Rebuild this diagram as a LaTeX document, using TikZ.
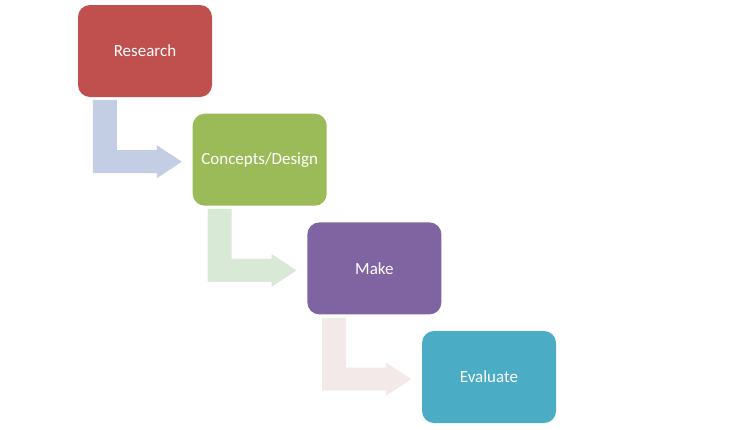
\documentclass[tikz,border=0pt]{standalone}
\usepackage{fontspec}
\setmainfont{Carlito}
\usetikzlibrary{calc}
\definecolor{cRed}{HTML}{C0504D}
\definecolor{cGreen}{HTML}{9BBB59}
\definecolor{cPurple}{HTML}{8064A2}
\definecolor{cTeal}{HTML}{4BACC6}
\definecolor{aBlue}{HTML}{C3CDE3}
\definecolor{aGreen}{HTML}{D8E9D6}
\definecolor{aPink}{HTML}{F3E9E8}
\tikzset{
  stepbox/.style={rounded corners=12pt, minimum width=134pt, minimum height=92pt,
    inner sep=0pt, text=white, font=\fontsize{17}{20}\selectfont},
}
\newcommand{\bentarrow}[2]{%
  \fill[#2] ($(#1.south west)+(15,3)$) -- ($(#1.south west)+(39,3)$)
    -- ($(#1.south west)+(39,53)$) -- ($(#1.south west)+(79,53)$)
    -- ($(#1.south west)+(79,48)$) -- ($(#1.south west)+(104,64.5)$)
    -- ($(#1.south west)+(79,81)$) -- ($(#1.south west)+(79,76)$)
    -- ($(#1.south west)+(15,76)$) -- cycle;}
\begin{document}
\begin{tikzpicture}[x=1pt,y=-1pt]
\useasboundingbox (0,0) rectangle (735,429);
\node[stepbox, fill=cRed] (r) at (145,51) {Research};
\node[stepbox, fill=cGreen] (c) at (259.7,159.7) {Concepts/Design};
\node[stepbox, fill=cPurple] (m) at (374.4,268.4) {Make};
\node[stepbox, fill=cTeal] (e) at (489,377) {Evaluate};
\bentarrow{r}{aBlue}
\bentarrow{c}{aGreen}
\bentarrow{m}{aPink}
\end{tikzpicture}
\end{document}
